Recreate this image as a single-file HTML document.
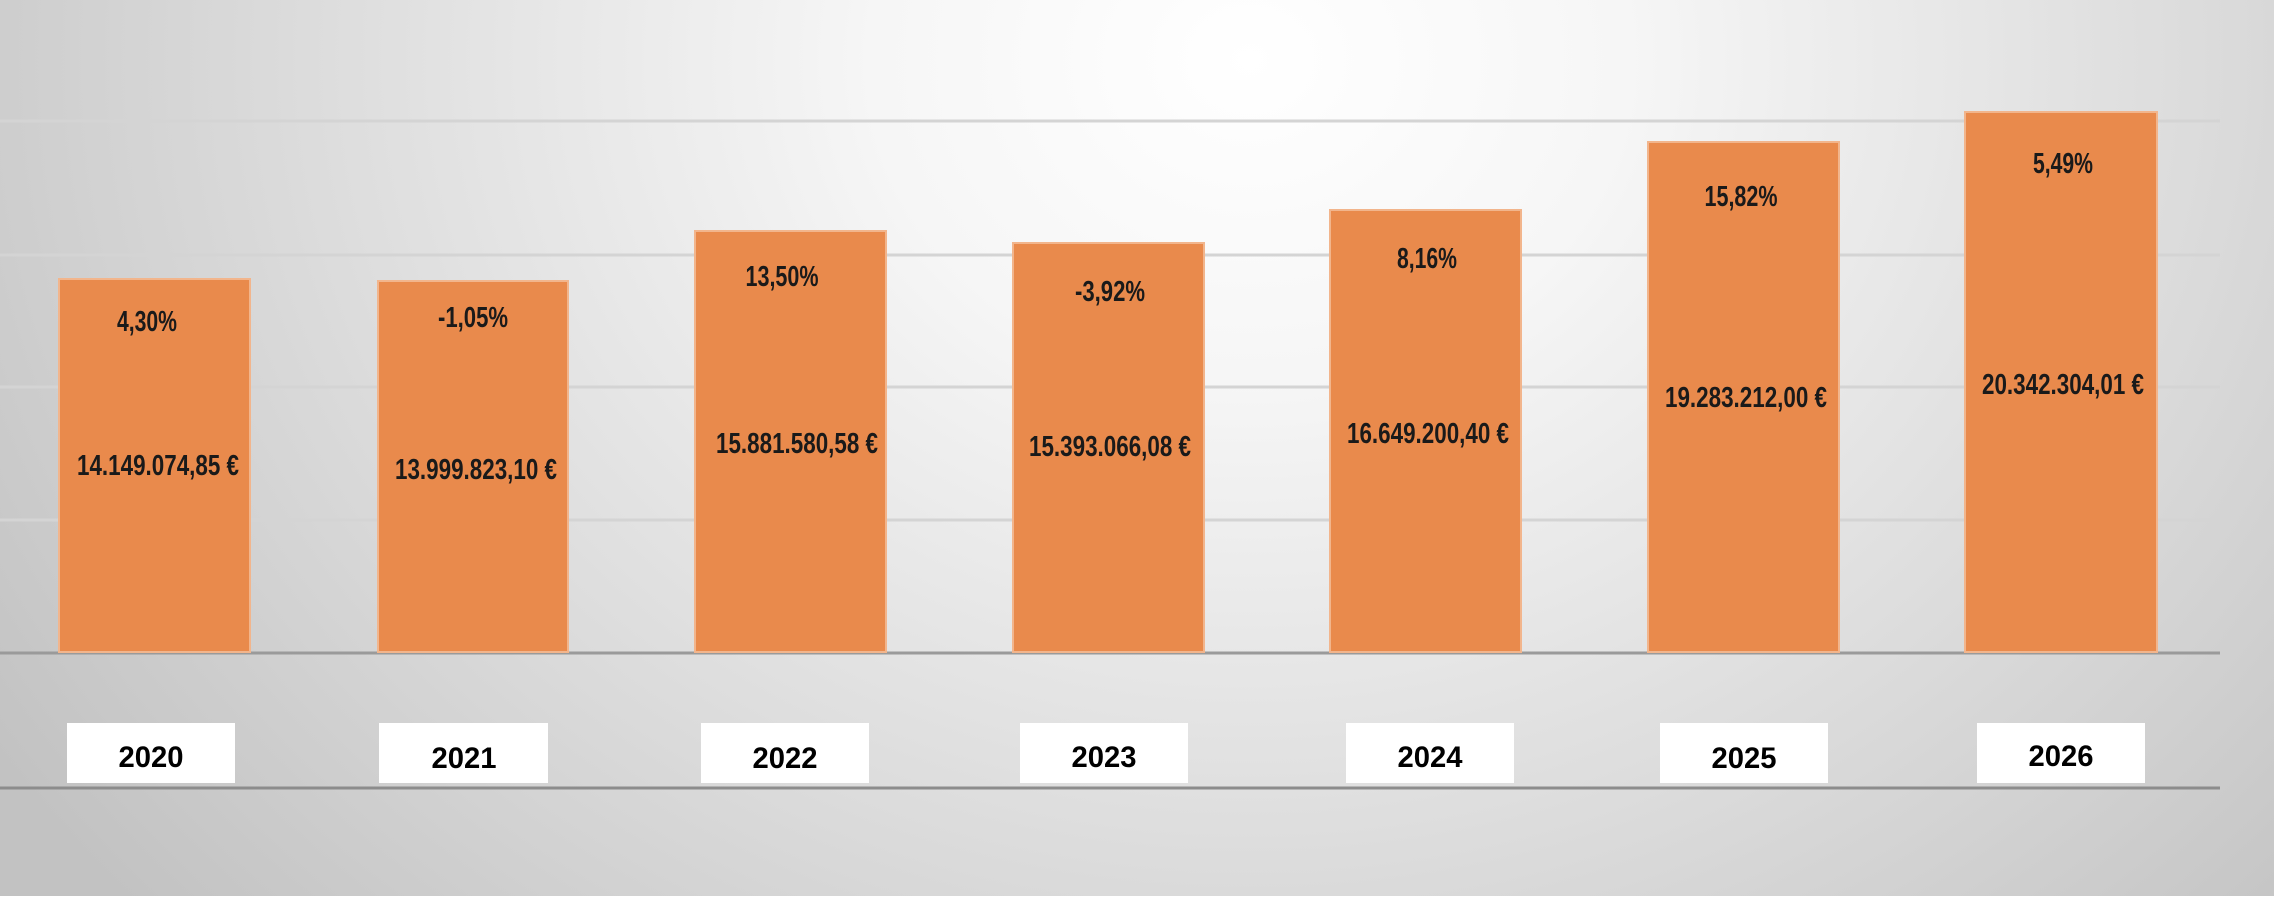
<!DOCTYPE html>
<html><head><meta charset="utf-8"><style>
html,body{margin:0;padding:0;width:2274px;height:899px;overflow:hidden;background:#fff}
</style></head><body>
<svg width="2274" height="899" xmlns="http://www.w3.org/2000/svg">
<defs>
<radialGradient id="bg" cx="1250" cy="60" r="1500" gradientUnits="userSpaceOnUse" gradientTransform="translate(1250 60) scale(1 0.85) translate(-1250 -60)">
<stop offset="0" stop-color="#ffffff"/>
<stop offset="0.25" stop-color="#f6f6f6"/>
<stop offset="0.6" stop-color="#dedede"/>
<stop offset="1" stop-color="#c2c2c2"/>
</radialGradient>
</defs>
<rect x="0" y="0" width="2274" height="896" fill="url(#bg)"/>
<g stroke="#d4d4d4" stroke-width="3">
<line x1="0" y1="121" x2="2220" y2="121"/>
<line x1="0" y1="255" x2="2220" y2="255"/>
<line x1="0" y1="387" x2="2220" y2="387"/>
<line x1="0" y1="520" x2="2220" y2="520"/>
</g>
<line x1="0" y1="653" x2="2220" y2="653" stroke="#9a9a9a" stroke-width="3"/>
<line x1="0" y1="788" x2="2220" y2="788" stroke="#8c8c8c" stroke-width="3"/>
<g fill="#e98a4c" stroke="#f2b58c" stroke-width="2">
<rect x="59" y="279" width="191" height="373"/>
<rect x="378" y="281" width="190" height="371"/>
<rect x="695" y="231" width="191" height="421"/>
<rect x="1013" y="243" width="191" height="409"/>
<rect x="1330" y="210" width="191" height="442"/>
<rect x="1648" y="142" width="191" height="510"/>
<rect x="1965" y="112" width="192" height="540"/>
</g>
<g font-family="'Liberation Sans Narrow','Liberation Sans',sans-serif" font-weight="bold" fill="#1a1a1a" text-anchor="middle" font-size="29">
<text x="147" y="331" textLength="60" lengthAdjust="spacingAndGlyphs">4,30%</text>
<text x="473" y="327" textLength="70" lengthAdjust="spacingAndGlyphs">-1,05%</text>
<text x="782" y="286" textLength="73" lengthAdjust="spacingAndGlyphs">13,50%</text>
<text x="1110" y="301" textLength="70" lengthAdjust="spacingAndGlyphs">-3,92%</text>
<text x="1427" y="268" textLength="60" lengthAdjust="spacingAndGlyphs">8,16%</text>
<text x="1741" y="206" textLength="73" lengthAdjust="spacingAndGlyphs">15,82%</text>
<text x="2063" y="173" textLength="60" lengthAdjust="spacingAndGlyphs">5,49%</text>
<text x="158" y="475" textLength="162" lengthAdjust="spacingAndGlyphs">14.149.074,85 €</text>
<text x="476" y="479" textLength="162" lengthAdjust="spacingAndGlyphs">13.999.823,10 €</text>
<text x="797" y="453" textLength="162" lengthAdjust="spacingAndGlyphs">15.881.580,58 €</text>
<text x="1110" y="456" textLength="162" lengthAdjust="spacingAndGlyphs">15.393.066,08 €</text>
<text x="1428" y="443" textLength="162" lengthAdjust="spacingAndGlyphs">16.649.200,40 €</text>
<text x="1746" y="407" textLength="162" lengthAdjust="spacingAndGlyphs">19.283.212,00 €</text>
<text x="2063" y="394" textLength="162" lengthAdjust="spacingAndGlyphs">20.342.304,01 €</text>
</g>
<g fill="#fff">
<rect x="67" y="723" width="168" height="60"/>
<rect x="379" y="723" width="169" height="60"/>
<rect x="701" y="723" width="168" height="60"/>
<rect x="1020" y="723" width="168" height="60"/>
<rect x="1346" y="723" width="168" height="60"/>
<rect x="1660" y="723" width="168" height="60"/>
<rect x="1977" y="723" width="168" height="60"/>
</g>
<g font-family="'Liberation Sans',sans-serif" font-weight="bold" fill="#000" text-anchor="middle" font-size="30">
<text x="151" y="767" textLength="65" lengthAdjust="spacingAndGlyphs">2020</text>
<text x="464" y="768" textLength="65" lengthAdjust="spacingAndGlyphs">2021</text>
<text x="785" y="768" textLength="65" lengthAdjust="spacingAndGlyphs">2022</text>
<text x="1104" y="767" textLength="65" lengthAdjust="spacingAndGlyphs">2023</text>
<text x="1430" y="767" textLength="65" lengthAdjust="spacingAndGlyphs">2024</text>
<text x="1744" y="768" textLength="65" lengthAdjust="spacingAndGlyphs">2025</text>
<text x="2061" y="766" textLength="65" lengthAdjust="spacingAndGlyphs">2026</text>
</g>
</svg>
</body></html>
